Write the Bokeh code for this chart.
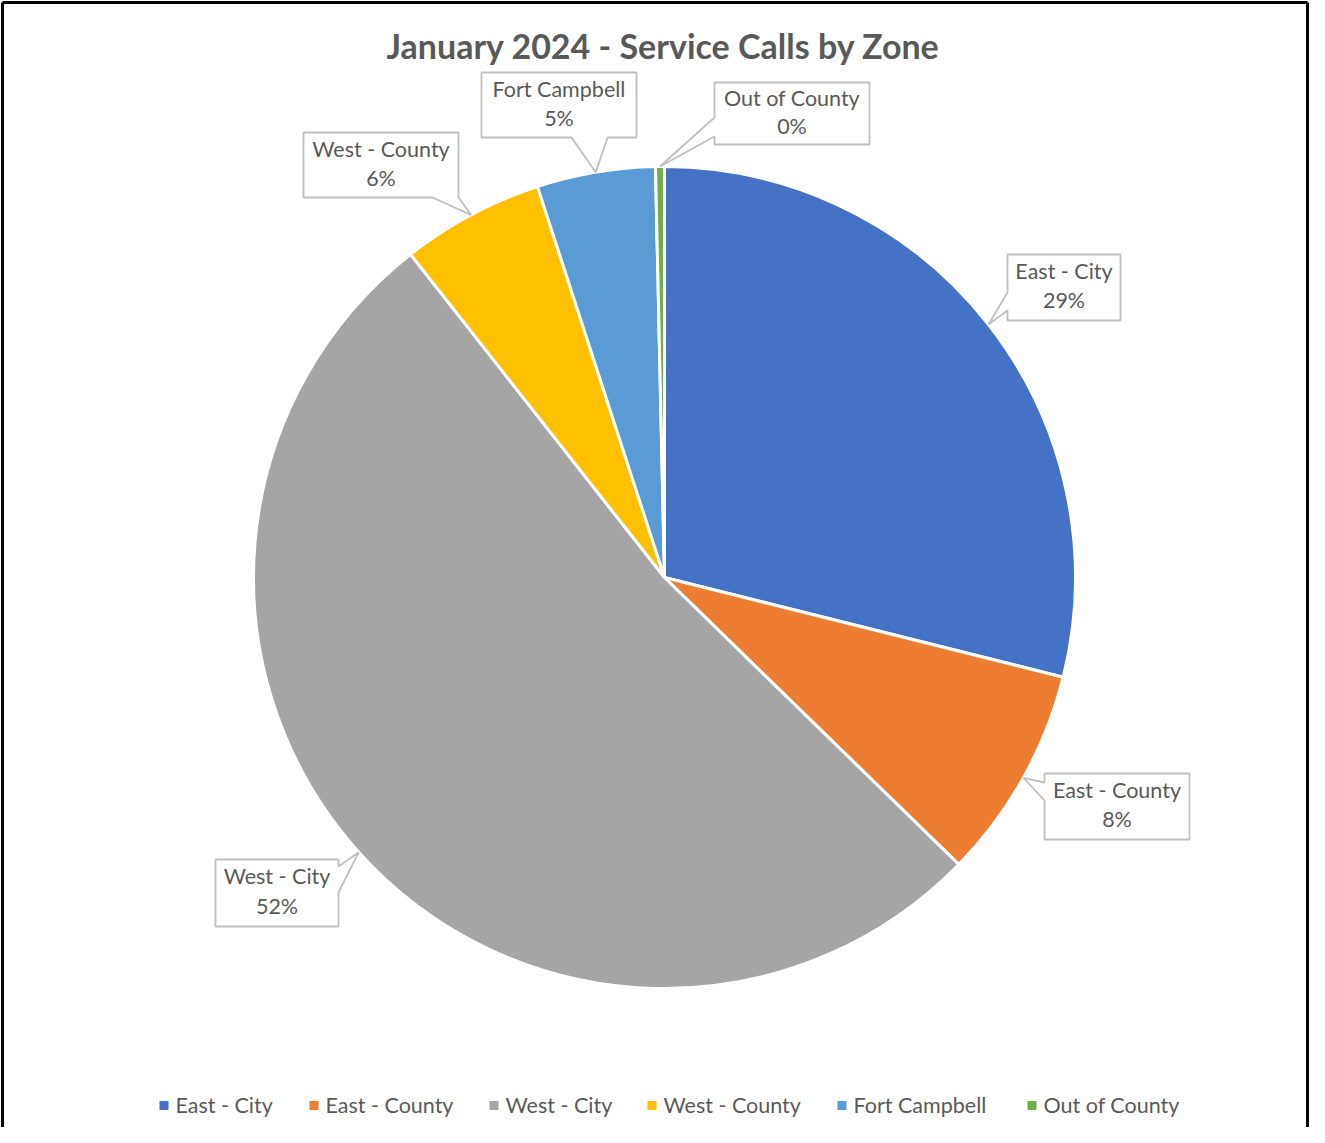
import numpy as np
from bokeh.plotting import figure
from bokeh.embed import file_html
from bokeh.resources import INLINE
from bokeh.core.properties import value

# ---- data ----
zones = ["East - City", "East - County", "West - City", "West - County", "Fort Campbell", "Out of County"]
shares = [28.9, 8.4, 52.1, 5.6, 4.65, 0.35]
pct_labels = ["29%", "8%", "52%", "6%", "5%", "0%"]
colors = ["#4472C4", "#ED7D31", "#A5A5A5", "#FFC000", "#5B9BD5", "#70AD47"]
title_text = "January 2024 - Service Calls by Zone"

# ---- layout (screen pixel coordinates) ----
W, H = 1309, 1127
def SY(y):
    return H - y

CX, CY, R = 664, SY(577), 411
# callout boxes: (left, top, right, bottom, side, base_a, base_b)
boxes = [
    (1007, 254, 1120, 320, "left", 292, 310),
    (1044, 773, 1189, 839, "left", 782, 800),
    (215, 859, 338, 926, "right", 866, 892),
    (303, 132, 458, 197, "bottom", 432, 458),
    (481, 72, 636, 137, "bottom", 571, 607),
    (714, 82, 869, 144, "left", 117, 136),
]
legend_x = [159, 309, 489, 647, 837, 1027]
legend_y = 1104
TXT = "#595959"
FONT = "Lato"

p = figure(width=W, height=H, x_range=(0, W), y_range=(0, H),
           output_backend="svg", toolbar_location=None, min_border=0)
p.axis.visible = False
p.grid.visible = False
p.outline_line_color = None
p.background_fill_color = "white"
p.border_fill_color = "white"

# border (left, top, right)
p.segment(x0=[2, 2, W - 2], y0=[0, SY(2), SY(2)],
          x1=[2, W - 2, W - 2], y1=[SY(2), SY(2), 0],
          line_color="black", line_width=3)

# pie
frac = np.array(shares) / sum(shares)
cum = np.concatenate([[0], np.cumsum(frac)])
start = np.pi / 2 - 2 * np.pi * cum[1:]
end = np.pi / 2 - 2 * np.pi * cum[:-1]
p.wedge(x=CX, y=CY, radius=R, start_angle=list(start), end_angle=list(end),
        fill_color=colors, line_color="white", line_width=3)

# callouts
mid = (start + end) / 2
tips = [(CX + R * np.cos(m), CY + R * np.sin(m)) for m in mid]
for (l, t, r, b, side, a, c), (tx, ty), name, pct in zip(boxes, tips, zones, pct_labels):
    pts = [(l, SY(t)), (r, SY(t))]
    if side == "right":
        pts += [(r, SY(a)), (tx, ty), (r, SY(c))]
    pts += [(r, SY(b))]
    if side == "bottom":
        pts += [(c, SY(b)), (tx, ty), (a, SY(b))]
    pts += [(l, SY(b))]
    if side == "left":
        pts += [(l, SY(c)), (tx, ty), (l, SY(a))]
    xs = [q[0] for q in pts]
    ys = [q[1] for q in pts]
    p.patch(xs, ys, fill_color="white", line_color="#BFBFBF", line_width=1.8)
    xm = (l + r) / 2
    hgt = b - t
    p.text(x=[xm, xm], y=[SY(t + hgt * 0.25), SY(t + hgt * 0.695)], text=[name, pct],
           text_align="center", text_baseline="middle", text_color=TXT,
           text_font=value(FONT), text_font_size="21.5px")

# title
p.text(x=[663], y=[SY(45)], text=[title_text], text_align="center", text_baseline="middle",
       text_color=TXT, text_font=value(FONT), text_font_size="34px", text_font_style="bold")

# legend
p.rect(x=[x + 4.5 for x in legend_x], y=SY(legend_y + 1), width=9, height=9,
       fill_color=colors, line_color=None)
p.text(x=[x + 16 for x in legend_x], y=SY(legend_y), text=zones, text_align="left",
       text_baseline="middle", text_color=TXT, text_font=value(FONT), text_font_size="21.5px")

open("out.html", "w").write(file_html(p, INLINE))
